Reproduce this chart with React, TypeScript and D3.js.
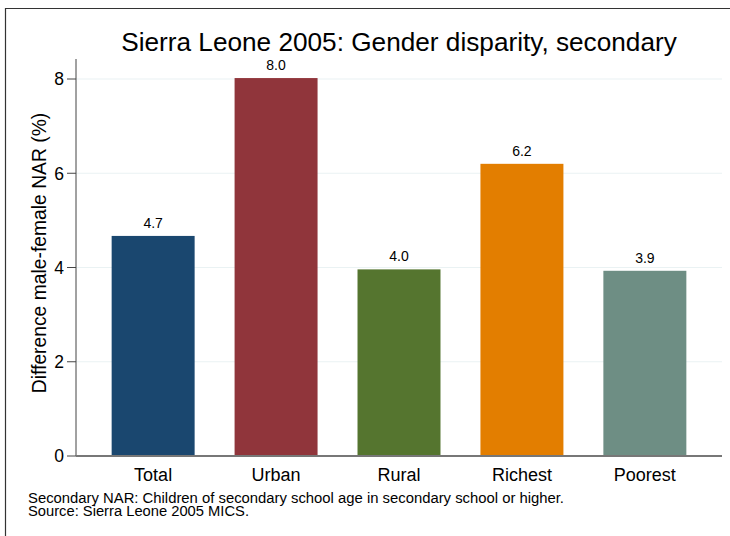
import React from "react";
import * as d3 from "d3";

const categories = ["Total", "Urban", "Rural", "Richest", "Poorest"];
const values = [4.67, 8.02, 3.96, 6.2, 3.93];
const colors = ["#1a476f", "#90353b", "#55752f", "#e37e00", "#6e8e84"];
const yTicks = [0, 2, 4, 6, 8];
const title = "Sierra Leone 2005: Gender disparity, secondary";
const yTitle = "Difference male-female NAR (%)";
const notes = [
  "Secondary NAR: Children of secondary school age in secondary school or higher.",
  "Source: Sierra Leone 2005 MICS.",
];

const W = 730;
const H = 536;
const plot = { left: 76, right: 722, top: 59, bottom: 456 };
const font = "'Liberation Sans', Arial, Helvetica, sans-serif";

export default function App() {
  const x = d3
    .scaleBand<string>()
    .domain(categories)
    .range([plot.left, plot.right])
    .paddingInner(0.325)
    .paddingOuter(0.29);
  const y = d3.scaleLinear().domain([0, 8]).range([plot.bottom, 79]);
  const noteWidths = [536, 221];

  return (
    <svg
      width={W}
      height={H}
      style={{ position: "absolute", left: 0, top: 0, background: "#fff" }}
      fontFamily={font}
    >
      <rect x={0} y={0} width={W} height={H} fill="#fff" />
      <path d={`M5.5,${H} V8.5 H${W}`} fill="none" stroke="#333" strokeWidth={1.2} />
      <text x={(plot.left + plot.right) / 2} y={51} textAnchor="middle" fontSize={26.2} fill="#000">
        {title}
      </text>
      {yTicks.slice(1).map((t) => (
        <line key={"g" + t} x1={plot.left} x2={plot.right} y1={y(t)} y2={y(t)} stroke="#eaf2f3" strokeWidth={1.2} />
      ))}
      {categories.map((c, i) => (
        <g key={c}>
          <rect x={x(c)} y={y(values[i])} width={x.bandwidth()} height={y(0) - y(values[i])} fill={colors[i]} />
          <text x={(x(c) as number) + x.bandwidth() / 2} y={y(values[i]) - 8} textAnchor="middle" fontSize={14} fill="#000">
            {d3.format(".1f")(values[i])}
          </text>
          <text x={(x(c) as number) + x.bandwidth() / 2} y={481} textAnchor="middle" fontSize={18} fill="#000">
            {c}
          </text>
        </g>
      ))}
      <line x1={plot.left} x2={plot.left} y1={plot.top} y2={plot.bottom} stroke="#444" strokeWidth={1} />
      <line x1={plot.left} x2={plot.right} y1={plot.bottom} y2={plot.bottom} stroke="#777" strokeWidth={2} />
      {yTicks.map((t) => (
        <g key={"t" + t}>
          <line x1={plot.left - 9} x2={plot.left} y1={y(t)} y2={y(t)} stroke="#444" strokeWidth={1} />
          <text x={plot.left - 12} y={y(t)} dy="0.36em" textAnchor="end" fontSize={17.5} fill="#000">
            {t}
          </text>
        </g>
      ))}
      <text
        transform={`translate(45.5,253) rotate(-90)`}
        textAnchor="middle"
        fontSize={19.3}
        fill="#000"
      >
        {yTitle}
      </text>
      {notes.map((n, i) => (
        <text
          key={i}
          x={28}
          y={503 + i * 12.6}
          fontSize={14}
          textLength={noteWidths[i]}
          lengthAdjust="spacingAndGlyphs"
          fill="#000"
        >
          {n}
        </text>
      ))}
    </svg>
  );
}
